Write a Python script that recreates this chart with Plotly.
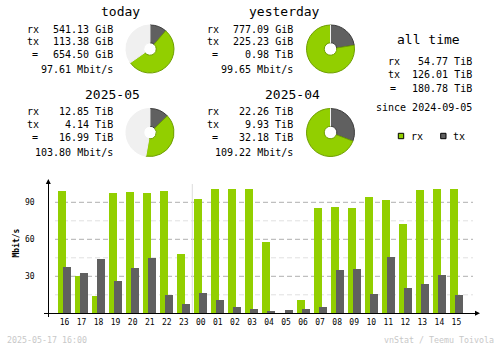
import plotly.graph_objects as go

# ---------------- data ----------------
hours = ["16", "17", "18", "19", "20", "21", "22", "23", "00", "01", "02", "03",
         "04", "05", "06", "07", "08", "09", "10", "11", "12", "13", "14", "15"]
rx_rate = [99.2, 30.3, 14.1, 97.6, 98.4, 97.6, 99.2, 48.1, 92.7, 100.8, 100.8, 100.8,
           57.8, 0.0, 10.8, 85.4, 86.2, 85.4, 94.3, 91.9, 72.4, 100.0, 100.8, 100.8]
tx_rate = [37.6, 32.7, 44.1, 26.2, 36.8, 44.9, 14.9, 7.6, 16.5, 10.8, 5.1, 3.5,
           1.9, 2.7, 3.5, 5.1, 35.1, 35.9, 15.7, 45.7, 20.5, 23.8, 31.1, 14.9]
y_ticks = [30, 60, 90]

periods = ["today", "yesterday", "2025-05", "2025-04"]
period_rx = [541.13, 777.09, 12.85, 22.26]
period_tx = [113.38, 225.23, 4.14, 9.93]
period_unit = ["GiB", "GiB", "TiB", "TiB"]
period_total = [654.50, 0.98, 16.99, 32.18]
period_total_unit = ["GiB", "TiB", "TiB", "TiB"]
period_rate = [97.61, 99.65, 103.80, 109.22]

alltime_rx = 54.77
alltime_tx = 126.01
alltime_total = 180.78
alltime_unit = "TiB"
since_date = "2024-09-05"
stamp = "2025-05-17 16:00"
credit = "vnStat / Teemu Toivola"

# ---------------- style ----------------
W, H = 500, 348
C_RX = "#92CF00"
C_TX = "#606060"
C_RX_EDGE = "#6E9E00"
C_TX_EDGE = "#3C3C3C"
C_FREE = "#F0F0F0"
MONO = "DejaVu Sans Mono"


def px(x):
    return x / W


def py(y):
    return 1 - y / H


fig = go.Figure()

# ---------------- hourly bar chart ----------------
slot = 17.04          # px per hour slot
x0_px = 64.5          # centre of first slot
ax_left, ax_right = 44, 476
base_px, top_px, bot_px = 313.3, 180, 317
ppu = 37 / 30         # px per Mbit/s
bar_w = 8 / slot
idx = list(range(len(hours)))

fig.add_trace(go.Bar(x=idx, y=rx_rate, width=bar_w, offset=-6.5 / slot,
                     marker=dict(color=C_RX, line=dict(width=0)),
                     xaxis="x", yaxis="y", showlegend=False, hoverinfo="skip"))
fig.add_trace(go.Bar(x=idx, y=tx_rate, width=bar_w, offset=-1.5 / slot,
                     marker=dict(color=C_TX, line=dict(width=0)),
                     xaxis="x", yaxis="y", showlegend=False, hoverinfo="skip"))

xr = [-(x0_px - ax_left) / slot, (ax_right - x0_px) / slot]
yr = [-(bot_px - base_px) / ppu, (base_px - top_px) / ppu]

shapes = []
# gridlines
for v in [15, 30, 45, 60, 75, 90]:
    major = v in y_ticks
    shapes.append(dict(type="line", xref="paper", yref="y", x0=px(55), x1=px(473),
                       y0=v, y1=v, layer="below",
                       line=dict(color="#B0B0B0" if major else "#E0E0E0", width=1,
                                 dash="5px,3px")))
# day separator
shapes.append(dict(type="line", xref="x", yref="y", x0=7.5, x1=7.5, y0=0,
                   y1=(base_px - 184) / ppu, layer="below",
                   line=dict(color="#DCDCDC", width=1)))
# axis arrows
shapes.append(dict(type="path", xref="paper", yref="paper",
                   path=f"M {px(48.3)} {py(179)} L {px(45.8)} {py(184)} L {px(50.8)} {py(184)} Z",
                   fillcolor="black", line=dict(width=0)))
shapes.append(dict(type="path", xref="paper", yref="paper",
                   path=f"M {px(480)} {py(313.3)} L {px(475)} {py(310.8)} L {px(475)} {py(315.8)} Z",
                   fillcolor="black", line=dict(width=0)))
# legend squares
shapes.append(dict(type="rect", xref="paper", yref="paper", x0=px(398.3), x1=px(403.7),
                   y0=py(138.7), y1=py(133.3), fillcolor=C_RX, line=dict(color="black", width=1)))
shapes.append(dict(type="rect", xref="paper", yref="paper", x0=px(440.7), x1=px(446),
                   y0=py(138.7), y1=py(133.3), fillcolor=C_TX, line=dict(color="black", width=1)))

# ---------------- donuts ----------------
pie_centres = [(150, 49), (330.5, 49), (150, 132.5), (330.5, 132.5)]
R = 24
pairs = [(0, 1), (0, 1), (2, 3), (2, 3)]
for i, (cx, cy) in enumerate(pie_centres):
    a, b = pairs[i]
    ref = max(period_rx[a] + period_tx[a], period_rx[b] + period_tx[b])
    free = ref - (period_rx[i] + period_tx[i])
    fig.add_trace(go.Pie(values=[period_tx[i], period_rx[i], free],
                         labels=["tx", "rx", "free"], sort=False, direction="clockwise",
                         rotation=0, hole=0.26, textinfo="none", hoverinfo="skip",
                         showlegend=False,
                         marker=dict(colors=[C_TX, C_RX, C_FREE],
                                     line=dict(color=[C_TX_EDGE, C_RX_EDGE, C_FREE], width=1)),
                         domain=dict(x=[px(cx - R), px(cx + R)], y=[py(cy + R), py(cy - R)])))

# ---------------- texts ----------------
ann = []


def txt(x, y, s, size=10, anchor="left", color="black", **kw):
    ann.append(dict(x=px(x), y=py(y), xref="paper", yref="paper", text=s, showarrow=False,
                    xanchor=anchor, yanchor="middle",
                    font=dict(family=MONO, size=size, color=color), **kw))


blocks = [(25, [29, 41, 54.3, 69], 12), (205, [29, 41, 54.3, 69], 12),
          (25, [111.7, 124, 137.7, 152.3], 94), (205, [111.7, 124, 137.7, 152.3], 94)]
for i, (lx, rows, ty) in enumerate(blocks):
    rx_edge = lx + 90
    txt(lx + 117, ty, periods[i], size=13, anchor="right")
    txt(lx, rows[0], "rx")
    txt(rx_edge, rows[0], f"{period_rx[i]:.2f} {period_unit[i]}", anchor="right")
    txt(lx, rows[1], "tx")
    txt(rx_edge, rows[1], f"{period_tx[i]:.2f} {period_unit[i]}", anchor="right")
    txt(lx + 9.5, rows[2], "=", anchor="center")
    txt(rx_edge, rows[2], f"{period_total[i]:.2f} {period_total_unit[i]}", anchor="right")
    txt(rx_edge, rows[3], f"{period_rate[i]:.2f} Mbit/s", anchor="right")

txt(428.5, 40, "all time", size=13, anchor="center")
txt(385.7, 61.7, "rx")
txt(474, 61.7, f"{alltime_rx:.2f} {alltime_unit}", anchor="right")
txt(385.7, 75, "tx")
txt(474, 75, f"{alltime_tx:.2f} {alltime_unit}", anchor="right")
txt(393.3, 88.3, "=", anchor="center")
txt(474, 88.3, f"{alltime_total:.2f} {alltime_unit}", anchor="right")
txt(473.5, 107.7, f"since {since_date}", anchor="right")
txt(408.5, 136, "rx")
txt(451.2, 136, "tx")

txt(4.5, 340, stamp, size=8.3, color="#C8C8C8")
txt(495.5, 340, credit, size=8.3, anchor="right", color="#C8C8C8")
ann.append(dict(x=px(15), y=py(243.5), xref="paper", yref="paper", text="<b>Mbit/s</b>",
                showarrow=False, textangle=-90, xanchor="center", yanchor="middle",
                font=dict(family=MONO, size=8, color="black")))

fig.update_layout(
    width=W, height=H, autosize=False,
    margin=dict(l=0, r=0, t=0, b=0, pad=0),
    paper_bgcolor="white", plot_bgcolor="white",
    barmode="overlay", bargap=0,
    shapes=shapes, annotations=ann,
    xaxis=dict(domain=[px(ax_left), px(ax_right)], anchor="free", position=py(base_px),
               range=xr, tickmode="array", tickvals=idx, ticktext=hours,
               showline=True, linecolor="black", linewidth=1, showgrid=False,
               zeroline=False, ticks="outside", ticklen=0, ticklabelstandoff=1,
               tickfont=dict(family=MONO, size=8, color="black"), fixedrange=True),
    yaxis=dict(domain=[py(bot_px), py(top_px)], anchor="free", position=px(48.3),
               range=yr, tickmode="array", tickvals=y_ticks,
               showline=True, linecolor="black", linewidth=1, showgrid=False,
               zeroline=False, ticks="outside", ticklen=0, ticklabelstandoff=12,
               tickfont=dict(family=MONO, size=8, color="black"), fixedrange=True),
)

fig.write_html("out.html")
